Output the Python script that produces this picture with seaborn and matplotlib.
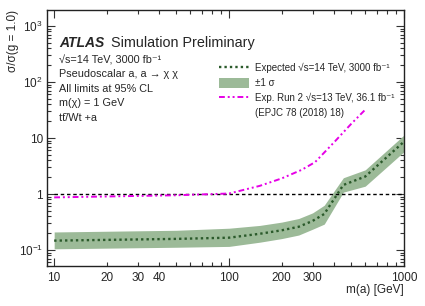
"""
Sensitivity projection for a pseudoscalar mediator (ATLAS style limit plot)
"""
import numpy as np
import pandas as pd
import matplotlib
matplotlib.use("Agg")
import matplotlib.pyplot as plt
import matplotlib.ticker as mticker
from matplotlib.lines import Line2D
from matplotlib.patches import Patch
import seaborn as sns

# Data
mass_exp = [10, 50, 100, 150, 200, 250, 300, 350, 450, 600, 1000]
limit_exp = [0.147, 0.158, 0.166, 0.195, 0.225, 0.26, 0.33, 0.44, 1.45, 2.05, 8.6]
limit_up = [0.21, 0.225, 0.245, 0.275, 0.315, 0.365, 0.46, 0.63, 1.95, 2.7, 11.3]
limit_down = [0.105, 0.112, 0.116, 0.138, 0.16, 0.185, 0.235, 0.29, 1.08, 1.38, 5.7]

mass_run2 = [10, 50, 100, 150, 200, 260, 310, 400, 500, 600]
limit_run2 = [0.87, 0.95, 1.02, 1.4, 1.9, 2.7, 3.7, 8.5, 18, 32]

ref_level = 1.0

x_labelled = [10, 20, 30, 40, 100, 200, 300, 1000]
y_major = [0.1, 1, 10, 100, 1000]
y_labels = [r"$10^{-1}$", "1", "10", r"$10^{2}$", r"$10^{3}$"]

info_lines = ["√s=14 TeV, 3000 fb⁻¹",
              "Pseudoscalar a, a → χ χ",
              "All limits at 95% CL",
              "m(χ) = 1 GeV",
              "tt\u0304/Wt +a"]

COL_BAND = "#9cba98"
COL_EXP = "#2b5a2b"
COL_RUN2 = "#e600e6"

sns.set_style("ticks")
plt.rcParams["font.family"] = ["Liberation Sans", "DejaVu Sans"]
plt.rcParams["mathtext.fontset"] = "custom"
plt.rcParams["mathtext.rm"] = "Liberation Sans:stretch=normal"
plt.rcParams["mathtext.it"] = "Liberation Sans:italic:stretch=normal"
plt.rcParams["mathtext.bf"] = "Liberation Sans:bold:stretch=normal"

df_exp = pd.DataFrame({"mass": mass_exp, "exp": limit_exp, "up": limit_up, "down": limit_down})
df_run2 = pd.DataFrame({"mass": mass_run2, "limit": limit_run2})

fig = plt.figure(figsize=(4.25, 3.06), dpi=100)
ax = fig.add_axes([0.1106, 0.1307, 0.84, 0.8366])

ax.fill_between(df_exp["mass"], df_exp["down"], df_exp["up"], color=COL_BAND, lw=0)
ax.hlines(ref_level, mass_exp[0], mass_exp[-1], color="black", lw=1.0, linestyles=(0, (2.5, 2)))
sns.lineplot(data=df_exp, x="mass", y="exp", ax=ax, color=COL_EXP, lw=1.7,
             linestyle=(0, (1, 1.3)))
sns.lineplot(data=df_run2, x="mass", y="limit", ax=ax, color=COL_RUN2, lw=1.4,
             linestyle=(0, (3, 1.5, 1, 1.5, 1, 1.5)))

ax.set_xscale("log")
ax.set_yscale("log")
ax.set_xlim(9.1, 1000)
ax.set_ylim(0.0518, 1930)

# x ticks: decades long, others short; label a subset like ROOT does
ax.xaxis.set_major_locator(mticker.LogLocator(base=10))
ax.xaxis.set_minor_locator(mticker.LogLocator(base=10, subs=np.arange(2, 10)))
ax.xaxis.set_major_formatter(mticker.FuncFormatter(lambda v, p: f"{v:g}" if v in x_labelled else ""))
ax.xaxis.set_minor_formatter(mticker.FuncFormatter(lambda v, p: f"{v:g}" if round(v) in x_labelled else ""))
ax.yaxis.set_major_locator(mticker.FixedLocator(y_major))
ax.yaxis.set_major_formatter(mticker.FixedFormatter(y_labels))
ax.yaxis.set_minor_locator(mticker.LogLocator(base=10, subs=np.arange(2, 10)))
ax.yaxis.set_minor_formatter(mticker.NullFormatter())

ax.tick_params(which="both", direction="in", top=True, right=True, labelsize=8.5, color="#333333")
ax.tick_params(which="major", length=6, width=0.8)
ax.tick_params(which="minor", length=3, width=0.8)
ax.tick_params(axis="x", which="both", pad=4)
ax.tick_params(axis="y", which="both", pad=3)
for s in ax.spines.values():
    s.set_linewidth(1.0)
    s.set_color("#222222")

ax.set_xlabel("m(a) [GeV]", fontsize=8.5, loc="right")
ax.xaxis.label.set_va("center")
ax.xaxis.set_label_coords(1.0, -0.094)
ax.set_ylabel("σ/σ(g = 1.0)", fontsize=8.5, loc="top")
ax.yaxis.label.set_va("center")
ax.yaxis.set_label_coords(-0.095, 1.0)

# ATLAS label and info text
W, H = 425.0, 306.0
fig.text(59 / W, 1 - 43 / H, "ATLAS", fontsize=10, weight="bold", style="italic", va="center")
fig.text(111 / W, 1 - 43 / H, "Simulation Preliminary", fontsize=10.4, va="center")
for i, line in enumerate(info_lines):
    y = 60 + 14.4 * i
    fig.text(59 / W, 1 - y / H, line, fontsize=7.8, va="center")

handles = [Line2D([], [], color=COL_EXP, lw=1.7, linestyle=(0, (1, 1.3))),
           Patch(facecolor=COL_BAND, edgecolor="none"),
           Line2D([], [], color=COL_RUN2, lw=1.4, linestyle=(0, (3, 1.5, 1, 1.5, 1, 1.5))),
           Line2D([], [], color="none")]
labels = ["Expected √s=14 TeV, 3000 fb⁻¹",
          "±1 σ",
          "Exp. Run 2 √s=13 TeV, 36.1 fb⁻¹",
          "(EPJC 78 (2018) 18)"]
ax.legend(handles, labels, loc="upper left", bbox_to_anchor=(219 / W, 1 - 63 / H),
          bbox_transform=fig.transFigure, frameon=False, fontsize=7.05,
          handlelength=3.1, handleheight=1.1, handletextpad=0.6, labelspacing=0.5,
          borderpad=0, borderaxespad=0)

fig.savefig("out.png", dpi=100)
